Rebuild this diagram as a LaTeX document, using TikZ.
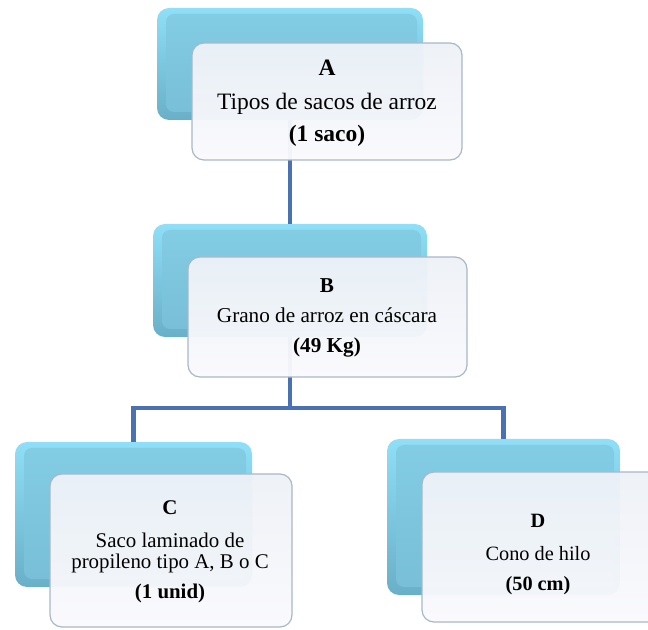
\documentclass[tikz,border=0pt]{standalone}
\usepackage{fontspec}
\setmainfont{Liberation Serif}
\usetikzlibrary{calc}

\definecolor{bevelTop}{HTML}{8EDFF7}
\definecolor{bevelBot}{HTML}{6AAFC8}
\definecolor{bodyTop}{HTML}{82CCE4}
\definecolor{bodyBot}{HTML}{78BFD7}
\definecolor{cardTop}{HTML}{EDF1F7}
\definecolor{cardBot}{HTML}{FAFAFD}
\definecolor{cardEdge}{HTML}{A9B7C7}
\definecolor{linkBlue}{HTML}{4A72B3}

\tikzset{
  backtile/.style={rectangle, rounded corners=6pt, inner sep=0pt, outer sep=0pt,
    top color=bevelTop, bottom color=bevelBot},
  tilebody/.style={rounded corners=4pt, top color=bodyTop, bottom color=bodyBot},
  card/.style={rectangle, rounded corners=6pt, inner sep=0pt, outer sep=0pt,
    draw=cardEdge, line width=0.6pt, top color=cardTop, bottom color=cardBot,
    fill opacity=0.96},
  link/.style={draw=linkBlue, line width=2.1pt},
  txt/.style={anchor=base, inner sep=0pt, text=black},
}

% draws the bevelled inner face of a back tile
\newcommand{\tileface}[1]{%
  \path[tilebody] ($(#1.north west)+(4.5pt,-3pt)$) rectangle ($(#1.south east)+(-3pt,4pt)$);}

\begin{document}
\begin{tikzpicture}[x=0.5pt, y=-0.5pt]
\useasboundingbox (0,0) rectangle (648,630);

% back tiles
\node[backtile, minimum width=133pt, minimum height=56pt]   (bA) at (290,64) {};
\node[backtile, minimum width=137pt, minimum height=56.5pt] (bB) at (290,280.5) {};
\node[backtile, minimum width=118.5pt, minimum height=72.5pt] (bC) at (133.5,514.5) {};
\node[backtile, minimum width=116.5pt, minimum height=78pt] (bD) at (503.5,517) {};
\tileface{bA}\tileface{bB}\tileface{bC}\tileface{bD}

% connectors
\coordinate (fork) at (290,408);
\draw[link] (bA.south) -- (bB.north);
\draw[link] (bB.south) -- (fork) -| (bC.north);
\draw[link] (fork) -| (bD.north);

% front cards
\node[card, minimum width=135pt, minimum height=58.5pt] (wA) at (327,101.5) {};
\node[card, minimum width=139.5pt, minimum height=60pt] (wB) at (327.5,317) {};
\node[card, minimum width=121pt, minimum height=76.5pt] (wC) at (171,550.5) {};
\node[card, minimum width=126.5pt, minimum height=75pt] (wD) at (548.5,547) {};

% texts
\begin{scope}[font=\fontsize{11.75}{14}\selectfont]
\node[txt] (tA1) at (327,76)  {\textbf{A}};
\node[txt] (tA2) at (327,110) {Tipos de sacos de arroz};
\node[txt] (tA3) at (327,142) {\textbf{(1 saco)}};
\end{scope}
\begin{scope}[font=\fontsize{10.6}{13}\selectfont]
\node[txt] (tB1) at (327,293) {\textbf{B}};
\node[txt] (tB2) at (327,323) {Grano de arroz en cáscara};
\node[txt] (tB3) at (327,353) {\textbf{(49 Kg)}};
\end{scope}
\begin{scope}[font=\fontsize{10.45}{12.5}\selectfont]
\node[txt] (tC1) at (170,515) {\textbf{C}};
\node[txt] (tC2) at (170,547) {Saco laminado de};
\node[txt] (tC3) at (170,568) {propileno tipo A, B o C};
\node[txt] (tC4) at (170,598) {\textbf{(1 unid)}};
\end{scope}
\begin{scope}[font=\fontsize{10.15}{12}\selectfont]
\node[txt] (tD1) at (538,528) {\textbf{D}};
\node[txt] (tD2) at (538,560) {Cono de hilo};
\node[txt] (tD3) at (538,590) {\textbf{(50 cm)}};
\end{scope}
\end{tikzpicture}
\end{document}
